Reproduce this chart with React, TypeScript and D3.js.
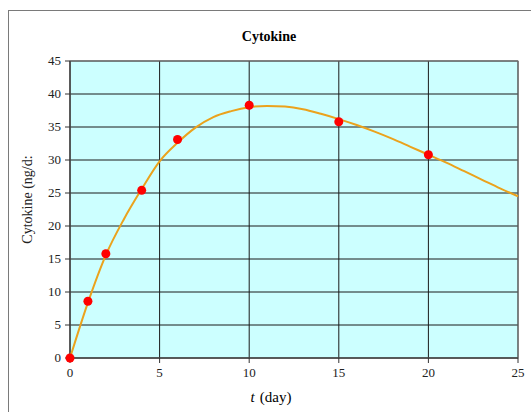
import { scaleLinear, line, curveMonotoneX } from 'd3';

// measured points
const obsDays = [0, 1, 2, 4, 6, 10, 15, 20];
const obsValues = [0, 8.6, 15.8, 25.4, 33.1, 38.3, 35.8, 30.8];

// fitted curve
const fitDays = [0, 1, 2, 3, 4, 5, 6, 7, 8, 9, 10, 11, 12, 13, 14, 15, 16, 17, 18, 19, 20, 21, 22, 23, 24, 25];
const fitValues = [0, 8.4, 15.6, 21.0, 25.6, 29.8, 32.6, 34.9, 36.5, 37.4, 38.0, 38.2, 38.1, 37.7, 37.0, 36.2, 35.3, 34.3, 33.2, 32.0, 30.8, 29.6, 28.3, 27.0, 25.7, 24.5];

const xTicks = [0, 5, 10, 15, 20, 25];
const yTicks = [0, 5, 10, 15, 20, 25, 30, 35, 40, 45];

export default function App() {
  const width = 531;
  const height = 412;
  const left = 70;
  const right = 518;
  const top = 61;
  const bottom = 358;

  const x = scaleLinear().domain([0, 25]).range([left, right]);
  const y = scaleLinear().domain([0, 45]).range([bottom, top]);

  const fitLine = line<number>()
    .x((_, i) => x(fitDays[i]))
    .y((d) => y(d))
    .curve(curveMonotoneX);

  const font = '"Liberation Serif", "Times New Roman", serif';

  return (
    <svg
      width={width}
      height={height}
      style={{ position: 'absolute', left: 0, top: 0, background: '#fff' }}
      fontFamily={font}
    >
      {/* outer chart frame */}
      <rect x={8.5} y={10.5} width={540} height={420} fill="#fff" stroke="#7a7a7a" strokeWidth={1} />

      <text x={269} y={41} textAnchor="middle" fontSize={14} fontWeight="bold" fill="#000">
        Cytokine
      </text>

      {/* plot area */}
      <rect x={left} y={top} width={right - left} height={bottom - top} fill="#ccffff" />

      {/* grid */}
      {yTicks.map((t) => (
        <line key={'gy' + t} x1={left} x2={right} y1={y(t)} y2={y(t)} stroke="#1a1a1a" strokeWidth={1} />
      ))}
      {xTicks.map((t) => (
        <line key={'gx' + t} x1={x(t)} x2={x(t)} y1={top} y2={bottom} stroke="#1a1a1a" strokeWidth={1} />
      ))}
      <rect x={left} y={top} width={right - left} height={bottom - top} fill="none" stroke="#777" strokeWidth={1} />

      {/* axes */}
      <line x1={left} x2={left} y1={top} y2={bottom} stroke="#333" />
      <line x1={left} x2={right} y1={bottom} y2={bottom} stroke="#333" />
      {yTicks.map((t) => (
        <g key={'ty' + t}>
          <line x1={left - 5} x2={left} y1={y(t)} y2={y(t)} stroke="#333" />
          <text x={left - 9} y={y(t) + 4} textAnchor="end" fontSize={13} fill="#222">
            {t}
          </text>
        </g>
      ))}
      {xTicks.map((t) => (
        <g key={'tx' + t}>
          <line x1={x(t)} x2={x(t)} y1={bottom} y2={bottom + 5} stroke="#333" />
          <text x={x(t)} y={bottom + 19} textAnchor="middle" fontSize={13} fill="#222">
            {t}
          </text>
        </g>
      ))}

      <text
        transform={`translate(32,${(top + bottom) / 2 - 10}) rotate(-90)`}
        textAnchor="middle"
        fontSize={14}
        fill="#222"
      >
        Cytokine (ng/d:
      </text>
      <text x={271} y={402} textAnchor="middle" fontSize={15} fill="#000">
        <tspan fontStyle="italic">t</tspan>
        <tspan dx={5}>(day)</tspan>
      </text>

      {/* fitted curve */}
      <path d={fitLine(fitValues) ?? ''} fill="none" stroke="#eba21c" strokeWidth={2} />

      {/* measured data */}
      {obsValues.map((v, i) => (
        <circle key={'p' + i} cx={x(obsDays[i])} cy={y(v)} r={4.5} fill="#ff0000" />
      ))}
    </svg>
  );
}
